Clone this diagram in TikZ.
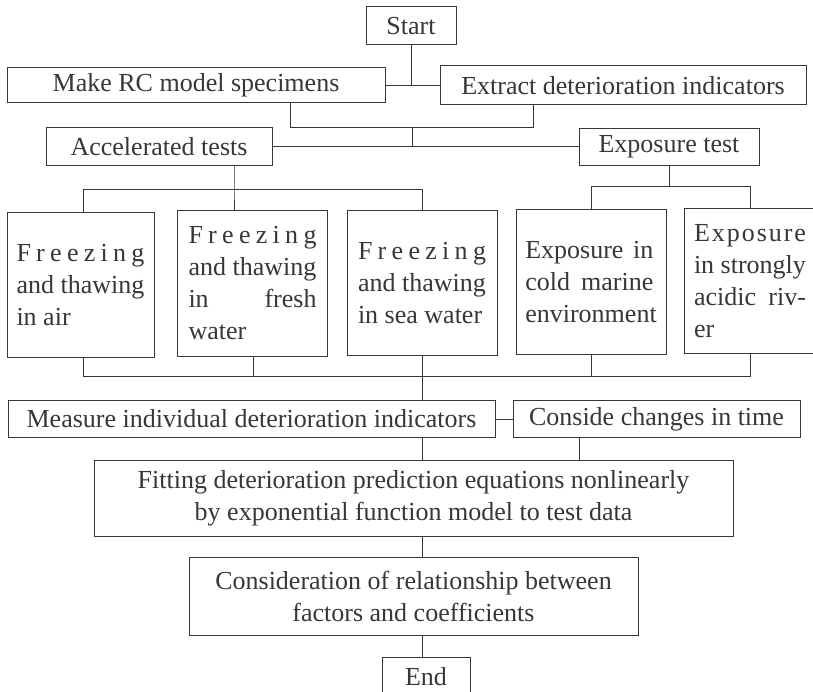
\documentclass[tikz,border=0pt]{standalone}
\usepackage{fontspec}
\setmainfont{Liberation Serif}
\definecolor{ink}{RGB}{55,55,55}
\newcommand{\stretchline}[2][128pt]{\makebox[#1][s]{\spaceskip=0pt plus 1fil #2}}

\begin{document}
\begin{tikzpicture}[x=1pt,y=-1pt,line width=1pt,
    font=\fontsize{26}{32}\selectfont]
    \tikzstyle{box}=[draw=ink,text=ink,rectangle,inner sep=0pt]
    \tikzstyle{tall}=[box,align=left,minimum width=150pt]
    \tikzstyle{link}=[draw=ink]

    \useasboundingbox (0,0) rectangle (813,692);
    \fill[white] (0,0) rectangle (813,692);

    % top part
    \node[box,minimum width=90pt,minimum height=38pt] (start) at (411,26) {Start};
    \node[box,minimum width=378pt,minimum height=35pt] (make) at (196,85.5) {Make RC model specimens};
    \node[box,minimum width=366pt,minimum height=39pt] (extract) at (623,85.5) {Extract deterioration indicators};
    \node[box,minimum width=226pt,minimum height=38pt] (accel) at (159,147) {Accelerated tests};
    \node[box,minimum width=180pt,minimum height=37pt] (expo) at (669,147) {Exposure test};

    % test conditions
    \node[tall,minimum width=147pt,minimum height=144pt] (b1) at (80.5,285)
      {\stretchline{F r e e z i n g}\\ and thawing\\ in air};
    \node[tall,minimum height=145pt] (b2) at (252.5,283.5)
      {\stretchline{F r e e z i n g}\\ and thawing\\ \stretchline{in fresh}\\ water};
    \node[tall,minimum height=144pt] (b3) at (422,283)
      {\stretchline{F r e e z i n g}\\ and thawing\\ in sea water};
    \node[tall,minimum height=144pt] (b4) at (591,282)
      {\stretchline{Exposure in}\\ \stretchline{cold marine}\\ environment};
    \node[tall,minimum width=132pt,minimum height=144pt] (b5) at (750,281)
      {\stretchline[112pt]{E x p o s u r e}\\ in strongly\\ \stretchline[112pt]{acidic riv-}\\ er};

    % lower part
    \node[box,minimum width=487pt,minimum height=37pt] (measure) at (251.5,419) {Measure individual deterioration indicators};
    \node[box,minimum width=287pt,minimum height=37pt] (conside) at (656.5,419) {Conside changes in time};
    \node[box,align=center,minimum width=639pt,minimum height=76pt] (fitting) at (413.5,498)
      {Fitting deterioration prediction equations nonlinearly\\ by exponential function model to test data};
    \node[box,align=center,minimum width=449pt,minimum height=78pt] (relation) at (413.5,596)
      {Consideration of relationship between\\ factors and coefficients};
    \node[box,minimum width=88pt,minimum height=40pt] (end) at (426,677) {End};

    % junction points
    \coordinate (j1) at (290,128);
    \coordinate (j2) at (533,128);
    \coordinate (j3) at (412,128);
    \coordinate (j4) at (234,190);
    \coordinate (j5) at (83,190);
    \coordinate (j6) at (422,190);
    \coordinate (j7) at (669,187);
    \coordinate (j8) at (591,187);
    \coordinate (j9) at (750,187);
    \coordinate (k1) at (83,376);
    \coordinate (k2) at (253,376);
    \coordinate (k3) at (422,376);
    \coordinate (k4) at (591,376);
    \coordinate (k5) at (750,376);
    \coordinate (c1) at (579,440);

    % connectors
    \draw[link] (start.south) -- (start.south |- make.east);
    \draw[link] (make.east) -- (extract.west);
    \draw[link] (j1 |- make.south) -- (j1) -- (j2) -- (j2 |- extract.south);
    \draw[link] (j3) -- (j3 |- accel.east);
    \draw[link] (accel.east) -- (expo.west);
    \draw[link] (j4 |- accel.south) -- (j4) -- (j4 |- b2.north);
    \draw[link] (j5 |- b1.north) -- (j5) -- (j6) -- (j6 |- b3.north);
    \draw[link] (j7 |- expo.south) -- (j7);
    \draw[link] (j8 |- b4.north) -- (j8) -- (j9) -- (j9 |- b5.north);
    \draw[link] (k1 |- b1.south) -- (k1) -- (k5) -- (k5 |- b5.south);
    \foreach \k/\b in {k2/b2,k3/b3,k4/b4}
      \draw[link] (\k |- \b.south) -- (\k);
    \draw[link] (k3) -- (k3 |- measure.north);
    \draw[link] (measure) -- (conside);
    \draw[link] (k3 |- measure.south) -- (k3 |- fitting.north);
    \draw[link] (c1 |- conside.south) -- (c1 |- fitting.north);
    \draw[link] (k3 |- fitting.south) -- (k3 |- relation.north);
    \draw[link] (k3 |- relation.south) -- (k3 |- end.north);
\end{tikzpicture}
\end{document}
